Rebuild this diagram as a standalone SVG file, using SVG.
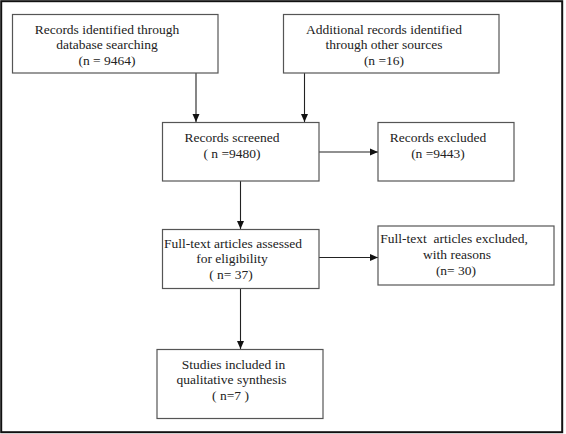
<svg xmlns="http://www.w3.org/2000/svg" width="566" height="434" viewBox="0 0 566 434">
<defs>
<marker id="ah" markerWidth="8" markerHeight="8" refX="8" refY="4" orient="auto" markerUnits="userSpaceOnUse">
<path d="M0,0.5 L8,4 L0,7.5 Z" fill="#111"/>
</marker>
<style>
.box{fill:#fff;stroke:#555;stroke-width:1.2}
.t{font-family:"Liberation Serif","Times New Roman",serif;font-size:13.5px;fill:#222;text-anchor:middle}
.c{stroke:#222;stroke-width:1.1;fill:none;marker-end:url(#ah)}
</style>
</defs>
<rect x="0" y="0" width="566" height="434" fill="#fff"/>
<rect x="1.2" y="1.2" width="561" height="431" fill="none" stroke="#111" stroke-width="2"/>
<g id="connectors">
<line class="c" x1="196" y1="73" x2="196" y2="122"/>
<line class="c" x1="304.5" y1="73" x2="304.5" y2="122"/>
<line class="c" x1="319" y1="152" x2="378" y2="152"/>
<line class="c" x1="240.5" y1="181" x2="240.5" y2="229"/>
<line class="c" x1="319" y1="257.5" x2="378" y2="257.5"/>
<line class="c" x1="240.5" y1="289" x2="240.5" y2="349"/>
</g>
<g id="n1">
<rect class="box" x="12.5" y="14.5" width="205.5" height="58.5"/>
<text class="t" x="107" y="33.5">Records identified through</text>
<text class="t" x="107" y="49">database searching</text>
<text class="t" x="107" y="65">(n = 9464)</text>
</g>
<g id="n2">
<rect class="box" x="283.5" y="14.5" width="215.5" height="58.5"/>
<text class="t" x="384" y="33.5">Additional records identified</text>
<text class="t" x="384" y="49">through other sources</text>
<text class="t" x="384" y="65">(n =16)</text>
</g>
<g id="n3">
<rect class="box" x="162.5" y="122.5" width="156.5" height="58.5"/>
<text class="t" x="232" y="142">Records screened</text>
<text class="t" x="232" y="157.5">( n =9480)</text>
</g>
<g id="n4">
<rect class="box" x="378" y="122.5" width="136" height="58.5"/>
<text class="t" x="438" y="142">Records excluded</text>
<text class="t" x="438" y="157.5">(n =9443)</text>
</g>
<g id="n5">
<rect class="box" x="162.5" y="229.5" width="156.5" height="59"/>
<text class="t" x="233" y="247.5">Full-text articles assessed</text>
<text class="t" x="232" y="263">for eligibility</text>
<text class="t" x="231" y="278.5">( n= 37)</text>
</g>
<g id="n6">
<rect class="box" x="378" y="226" width="176" height="59"/>
<text class="t" x="454" y="243" xml:space="preserve">Full-text  articles excluded,</text>
<text class="t" x="457" y="259">with reasons</text>
<text class="t" x="456" y="275">(n= 30)</text>
</g>
<g id="n7">
<rect class="box" x="157" y="349.5" width="166" height="69"/>
<text class="t" x="233.5" y="368.5">Studies included in</text>
<text class="t" x="231.5" y="384">qualitative synthesis</text>
<text class="t" x="230.5" y="399.5">( n=7 )</text>
</g>
</svg>
